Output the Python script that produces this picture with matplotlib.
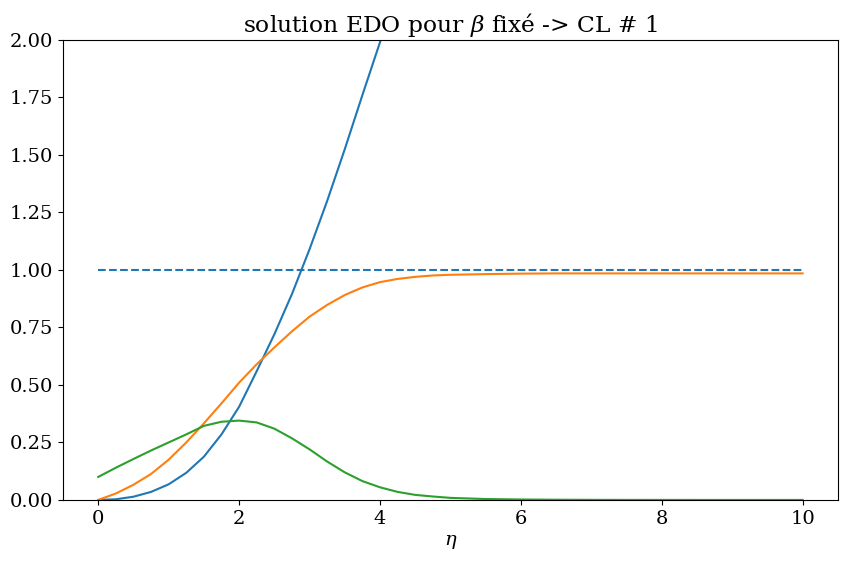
import matplotlib
matplotlib.use("Agg")
import matplotlib.pyplot as plt

plt.rcParams['font.family'] = ['DejaVu Serif']
plt.rcParams['mathtext.fontset'] = 'dejavuserif'
plt.rcParams['font.size'] = 14

eta = [0.0, 0.25, 0.5, 0.75, 1.0, 1.25, 1.5, 1.75, 2.0, 2.25, 2.5, 2.75, 3.0,
       3.25, 3.5, 3.75, 4.0, 4.25, 4.5, 4.75, 5.0, 5.5, 6.0, 6.5, 7.0, 7.5,
       8.0, 8.5, 9.0, 9.5, 10.0]

f = [0.0, 0.003, 0.014, 0.035, 0.068, 0.118, 0.188, 0.285, 0.405, 0.56, 0.72,
     0.895, 1.09, 1.30, 1.525, 1.76, 1.99, 2.23, 2.47, 2.715, 2.96, 3.45, 3.94,
     4.43, 4.925, 5.42, 5.91, 6.40, 6.90, 7.39, 7.88]

fp = [0.0, 0.028, 0.066, 0.113, 0.175, 0.25, 0.333, 0.42, 0.51, 0.59, 0.663,
      0.733, 0.797, 0.848, 0.891, 0.924, 0.947, 0.961, 0.970, 0.976, 0.979,
      0.982, 0.984, 0.985, 0.985, 0.985, 0.985, 0.985, 0.985, 0.985, 0.985]

fpp = [0.100, 0.14, 0.178, 0.215, 0.25, 0.285, 0.322, 0.34, 0.345, 0.337, 0.31,
       0.268, 0.22, 0.167, 0.12, 0.082, 0.055, 0.035, 0.022, 0.015, 0.009,
       0.004, 0.002, 0.001, 0.0005, 0.0002, 0.0001, 0.0, 0.0, 0.0, 0.0]

ref_level = [1.0] * len(eta)

fig = plt.figure(figsize=(8.48, 5.63), dpi=100)
ax = fig.add_subplot(111)
fig.subplots_adjust(left=0.0743, right=0.988, top=0.929, bottom=0.112)

ax.plot(eta, f, color='C0')
ax.plot(eta, fp, color='C1')
ax.plot(eta, fpp, color='C2')
ax.plot(eta, ref_level, '--', color='C0')

ax.set_ylim(0, 2)
ax.set_xlim(-0.5, 10.5)
ax.set_xlabel(r'$\eta$')
ax.set_title(r'solution EDO pour $\beta$ fixé -> CL # 1')

fig.savefig('out.png', dpi=100)
